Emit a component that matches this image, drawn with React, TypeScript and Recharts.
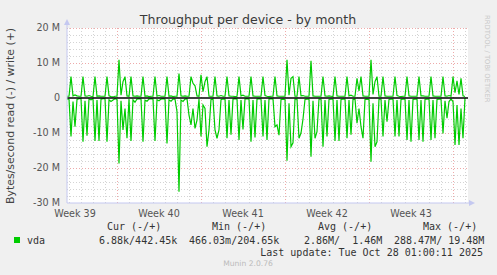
import { LineChart, Line, XAxis, YAxis, CartesianGrid, ReferenceLine } from 'recharts';

// 4-hour samples, one row per day (6 samples), values in MB/s
const writeM = [
  0.5,
  0.5, 6.1, 0.6, 0.9, 0.6, 0.5,
  0.5, 6.1, 0.6, 0.5, 0.7, 0.5,
  0.4, 6.1, 0.5, 0.6, 0.5, 0.5,
  0.5, 6.1, 0.6, 0.4, 0.3, 0.5,
  0.5, 10.9, 0.8, 4.7, 6.1, 0.6,
  0.5, 6.1, 0.6, 0.5, 0.6, 0.5,
  0.5, 6.1, 0.5, 0.6, 0.4, 0.5,
  0.5, 6.1, 0.5, 0.7, 0.5, 0.5,
  0.5, 6.1, 0.5, 0.6, 0.4, 0.5,
  0.5, 7.0, 0.6, 0.5, 0.6, 0.5,
  0.5, 6.1, 4.2, 3.5, 0.6, 0.5,
  6.6, 1.8, 4.7, 6.1, 0.5, 0.5,
  0.5, 6.1, 0.6, 0.5, 0.7, 0.5,
  0.5, 6.1, 0.6, 0.5, 0.5, 0.4,
  0.5, 6.1, 0.6, 0.8, 0.5, 0.5,
  0.5, 6.1, 0.6, 0.5, 0.5, 0.5,
  0.5, 6.1, 0.7, 0.5, 0.4, 0.5,
  0.5, 6.1, 0.6, 0.5, 0.5, 0.5,
  0.5, 10.9, 0.8, 5.6, 6.1, 0.5,
  0.5, 6.1, 0.6, 0.7, 0.5, 0.5,
  0.5, 10.6, 0.6, 0.5, 0.5, 0.5,
  0.5, 6.1, 0.6, 0.5, 0.6, 0.5,
  0.4, 6.1, 0.6, 0.5, 0.5, 0.5,
  0.5, 6.1, 0.6, 0.8, 0.5, 0.5,
  5.6, 2.0, 6.1, 0.6, 0.5, 0.5,
  0.5, 10.9, 1.0, 4.7, 6.1, 0.5,
  0.5, 6.1, 0.6, 0.5, 0.5, 0.5,
  0.5, 6.1, 0.7, 0.5, 0.4, 0.5,
  0.5, 6.1, 0.6, 0.5, 0.5, 0.5,
  0.5, 6.1, 0.6, 0.6, 0.5, 0.5,
  0.5, 6.1, 0.6, 0.5, 0.5, 0.5,
  0.5, 6.1, 0.6, 0.5, 0.7, 0.5,
  6.1, 1.5, 4.9, 1.0, 5.6, 0.6,
  0.44,
];

const readM = [
  -0.3,
  -0.3, -11.0, -1.0, -8.2, -0.4, -0.2,
  -0.2, -12.5, -0.8, -10.8, -0.3, -0.5,
  -0.2, -12.3, -0.6, -12.3, -0.3, -0.2,
  -0.2, -12.5, -0.5, -1.0, -0.6, -0.2,
  -0.4, -18.7, -0.8, -9.1, -3.0, -11.5,
  -0.3, -12.3, -0.5, -1.2, -0.3, -0.2,
  -0.3, -12.5, -0.6, -0.9, -0.3, -0.2,
  -0.3, -12.3, -0.5, -0.8, -0.3, -0.2,
  -0.3, -13.0, -0.5, -0.9, -0.3, -0.3,
  -3.9, -26.8, -0.6, -1.0, -0.3, -0.2,
  -4.9, -7.7, -3.0, -8.7, -6.3, -0.3,
  -11.0, -2.0, -3.0, -13.9, -9.1, -0.4,
  -0.3, -9.1, -11.5, -9.1, -0.5, -0.3,
  -0.3, -11.5, -0.6, -10.5, -0.3, -0.2,
  -0.3, -12.0, -0.6, -9.0, -0.3, -0.2,
  -0.3, -12.5, -0.6, -11.3, -0.3, -0.2,
  -0.3, -11.0, -0.6, -12.0, -0.3, -0.2,
  -0.3, -8.2, -7.7, -10.6, -0.4, -0.3,
  -0.4, -17.9, -1.5, -13.9, -12.8, -0.3,
  -0.3, -11.5, -10.0, -6.0, -0.4, -0.3,
  -0.3, -16.8, -0.8, -11.5, -9.6, -0.3,
  -0.3, -13.9, -0.6, -11.0, -0.4, -0.3,
  -0.3, -12.3, -0.6, -12.3, -0.4, -0.3,
  -0.3, -11.5, -0.6, -10.5, -0.4, -0.3,
  -7.2, -3.0, -8.2, -11.5, -0.4, -0.3,
  -0.4, -18.2, -1.5, -13.9, -12.5, -0.3,
  -0.3, -11.0, -0.6, -6.8, -0.4, -0.3,
  -0.3, -11.0, -0.6, -11.0, -0.4, -0.3,
  -0.3, -12.0, -0.6, -12.5, -0.4, -0.3,
  -0.3, -12.0, -0.6, -12.5, -0.4, -0.3,
  -0.3, -12.0, -0.6, -11.5, -0.4, -0.3,
  -0.3, -10.1, -0.8, -5.8, -1.0, -0.3,
  -1.0, -13.4, -2.0, -13.4, -3.0, -11.5,
  -0.01,
];

const weekTicks = [4, 46, 88, 130, 172];
const weekLabels = ['Week 39', 'Week 40', 'Week 41', 'Week 42', 'Week 43'];
const weekStarts = [25, 67, 109, 151, 193];
const yTicks = [-30, -20, -10, 0, 10, 20];

const legendHeads = ['Cur (-/+)', 'Min (-/+)', 'Avg (-/+)', 'Max (-/+)'];
const legendValues = ['6.88k/442.45k', '466.03m/204.65k', '2.86M/  1.46M', '288.47M/ 19.48M'];

const data = writeM.map((w, i) => ({ i, write: w, read: readM[i] }));

const dayLines = Array.from({ length: 34 }, (_, k) => 1 + 6 * k).filter((d) => !weekStarts.includes(d));
const minorY = Array.from({ length: 26 }, (_, k) => -30 + 2 * k).filter((v) => v % 10 !== 0);
const majorY = [-20, -10, 10, 20];

const GREEN = '#00cc00';
const MINOR = '#d4d4d4';
const MAJOR = '#eeaaaa';
const AXIS = '#c4c8f0';

export default function App() {
  const sans = 'DejaVu Sans, sans-serif';
  const mono = 'DejaVu Sans Mono, monospace';
  return (
    <div style={{ position: 'absolute', left: 0, top: 0, width: 497, height: 275, background: '#f0f0f0' }}>
      <LineChart width={497} height={275} data={data} margin={{ top: 28, right: 29, bottom: 52, left: 0 }}>
        <CartesianGrid horizontal={false} vertical={false} fill="#fff" />
        {dayLines.map((d) => (
          <ReferenceLine key={'d' + d} x={d} stroke={MINOR} strokeDasharray="1 2" shapeRendering="crispEdges" />
        ))}
        {minorY.map((v) => (
          <ReferenceLine key={'m' + v} y={v} stroke={MINOR} strokeDasharray="1 2" shapeRendering="crispEdges" />
        ))}
        {weekStarts.map((d) => (
          <ReferenceLine key={'w' + d} x={d} stroke={MAJOR} strokeDasharray="1 2" shapeRendering="crispEdges" />
        ))}
        {majorY.map((v) => (
          <ReferenceLine key={'M' + v} y={v} stroke={MAJOR} strokeDasharray="1 2" shapeRendering="crispEdges" />
        ))}
        <XAxis
          dataKey="i"
          type="number"
          domain={[0, 200.5]}
          ticks={weekTicks}
          tickFormatter={(v) => weekLabels[weekTicks.indexOf(v)] ?? ''}
          height={20}
          tickSize={0}
          tickMargin={7}
          axisLine={{ stroke: AXIS }}
          tick={{ fontSize: 9.6, fill: '#555', fontFamily: sans }}
        />
        <YAxis
          type="number"
          domain={[-30, 20]}
          ticks={yTicks}
          allowDataOverflow
          width={67}
          tickSize={0}
          tickMargin={7}
          tickFormatter={(v) => (v === 0 ? '0' : `${v} M`)}
          axisLine={{ stroke: AXIS }}
          tick={{ fontSize: 9.6, fill: '#555', fontFamily: sans }}
        />
        <Line dataKey="read" stroke={GREEN} strokeWidth={1.2} dot={false} isAnimationActive={false} />
        <Line dataKey="write" stroke={GREEN} strokeWidth={1.2} dot={false} isAnimationActive={false} />
        <ReferenceLine y={0} stroke="#000" strokeWidth={1.6} />
      </LineChart>
      <svg width={497} height={275} style={{ position: 'absolute', left: 0, top: 0, pointerEvents: 'none' }}>
        {/* axis arrows */}
        <line x1={67} y1={22} x2={67} y2={28} stroke={AXIS} />
        <polygon points="64,25 70,25 67,19" fill={AXIS} />
        <line x1={468} y1={203} x2={472} y2={203} stroke={AXIS} />
        <polygon points="469,200 469,206 475,203" fill={AXIS} />
        <text x={248} y={24} textAnchor="middle" fontFamily={sans} fontSize={12.6} fill="#3a3a3a">
          Throughput per device - by month
        </text>
        <text
          x={10}
          y={116}
          textAnchor="middle"
          dominantBaseline="central"
          transform="rotate(-90 10 116)"
          fontFamily={sans}
          fontSize={10.9}
          fill="#444"
        >
          Bytes/second read (-) / write (+)
        </text>
        <text
          x={487}
          y={15}
          textAnchor="start"
          dominantBaseline="central"
          transform="rotate(90 487 15)"
          fontFamily={sans}
          fontSize={6.8}
          fill="#c8c8c8"
        >
          RRDTOOL / TOBI OETIKER
        </text>
        {legendHeads.map((h, k) => (
          <text key={h} x={[107, 212, 318, 423][k]} y={230} fontFamily={mono} fontSize={10} fill="#333" style={{ whiteSpace: 'pre' }}>
            {h}
          </text>
        ))}
        <rect x={14} y={237} width={6} height={6} fill={GREEN} />
        <text x={27} y={243.5} fontFamily={mono} fontSize={10} fill="#333">vda</text>
        {legendValues.map((v, k) => (
          <text key={v} x={[99, 189, 304, 394][k]} y={243.5} fontFamily={mono} fontSize={10} fill="#333" style={{ whiteSpace: 'pre' }}>
            {v}
          </text>
        ))}
        <text x={483} y={255.5} textAnchor="end" fontFamily={mono} fontSize={10} fill="#333">
          Last update: Tue Oct 28 01:00:11 2025
        </text>
        <text x={248} y={266} textAnchor="middle" fontFamily={sans} fontSize={7.6} fill="#bbb">
          Munin 2.0.76
        </text>
      </svg>
    </div>
  );
}
